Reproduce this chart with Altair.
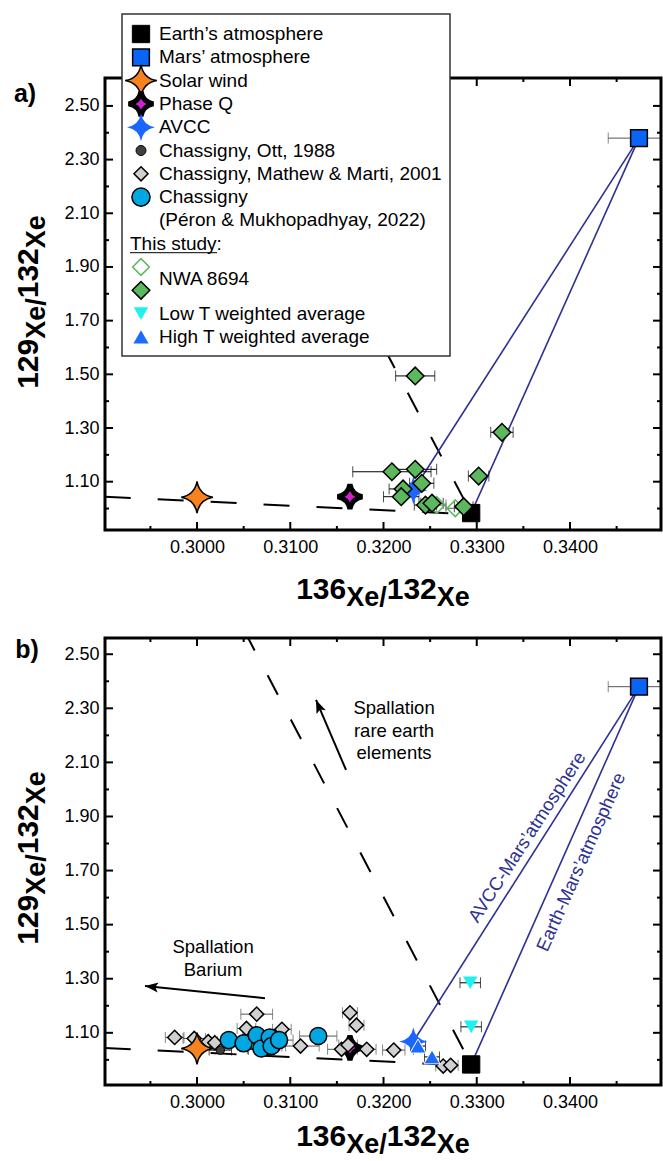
import altair as alt
import pandas as pd

FONT = "Liberation Sans"
NAVY = "#2e3192"

# ---------------- data ----------------
earth_x = [0.3294]; earth_y = [0.983]
mars_x = [0.3474];  mars_y = [2.380]; mars_xerr = [0.0033]
sw_x = [0.3000];    sw_y = [1.042]
q_x = [0.3164];     q_y = [1.044]
avcc_x = [0.3232];  avcc_y = [1.068]

# NWA 8694 (this study, panel a)
nwa_x = [0.3234, 0.3327, 0.3209, 0.3234, 0.3302, 0.3241, 0.3221, 0.3219, 0.3245, 0.3252, 0.3286]
nwa_y = [1.494, 1.284, 1.137, 1.146, 1.121, 1.094, 1.073, 1.044, 1.013, 1.020, 1.007]
nwa_xerr = [0.0021, 0.0012, 0.0042, 0.0023, 0.0011, 0.0013, 0.0015, 0.0019, 0.0012, 0.0012, 0.0010]
nwa_open_x = [0.3257, 0.3277]
nwa_open_y = [1.013, 1.001]
nwa_open_xerr = [0.0010, 0.0010]

# Chassigny (panel b)
ott_x = [0.3025, 0.3065]; ott_y = [1.036, 1.039]; ott_xerr = [0.0012, 0.0010]
mm_x = [0.2976, 0.2997, 0.3012, 0.3019, 0.3053, 0.3064, 0.3091, 0.3111,
        0.3164, 0.3171, 0.3155, 0.3162, 0.3182, 0.3211, 0.3264, 0.3272]
mm_y = [1.083, 1.079, 1.067, 1.063, 1.116, 1.169, 1.113, 1.051,
        1.174, 1.128, 1.039, 1.055, 1.039, 1.036, 0.977, 0.980]
mm_xerr = [0.0010, 0.0012, 0.0010, 0.0010, 0.0010, 0.0017, 0.0010, 0.0020,
           0.0008, 0.0008, 0.0015, 0.0010, 0.0010, 0.0012, 0.0008, 0.0008]
peron_x = [0.3034, 0.3050, 0.3064, 0.3069, 0.3078, 0.3080, 0.3088, 0.3130]
peron_y = [1.073, 1.061, 1.091, 1.042, 1.083, 1.051, 1.073, 1.088]
peron_xerr = [0.0015, 0.0015, 0.0015, 0.0015, 0.0018, 0.0015, 0.0015, 0.0020]
lowT_x = [0.3293, 0.3294]; lowT_y = [1.285, 1.122]; lowT_xerr = [0.0011, 0.0011]
highT_x = [0.3237, 0.3252]; highT_y = [1.051, 1.011]; highT_xerr = [0.0008, 0.0008]

# reference lines
spall_x = [0.3026]; spall_y = [2.75]          # far end of the Earth - REE spallation line
swline_x = [0.2901, 0.3294]; swline_y = [1.044, 0.978]

# arrows (tail -> head)
ree_arrow = [0.31598, 2.072, 0.31276, 2.331]
ba_arrow = [0.30729, 1.228, 0.29442, 1.273]

# axes
XDOM = [0.29013, 0.34976]
YDOM_A = [0.92, 2.604]
YDOM_B = [0.907, 2.560]
xt_major = [0.300, 0.310, 0.320, 0.330, 0.340]
xt_minor = [0.295, 0.305, 0.315, 0.325, 0.335, 0.345]
yt_major = [1.1, 1.3, 1.5, 1.7, 1.9, 2.1, 2.3, 2.5]
yt_minor = [1.0, 1.2, 1.4, 1.6, 1.8, 2.0, 2.2, 2.4]

legend_labels = ["Earth’s atmosphere", "Mars’ atmosphere", "Solar wind", "Phase Q", "AVCC",
                 "Chassigny, Ott, 1988", "Chassigny, Mathew & Marti, 2001", "Chassigny",
                 "(Péron & Mukhopadhyay, 2022)", "This study:", "NWA 8694",
                 "Low T weighted average", "High T weighted average"]

# ---------------- layout ----------------
W = 556
HA, HB = 452, 447
DUMMY = pd.DataFrame({"k": [0]})
STAR = "M0,-1 Q0.15,-0.15 1,0 Q0.15,0.15 0,1 Q-0.15,0.15 -1,0 Q-0.15,-0.15 0,-1 Z"
ARROW = "M0,0 L0.38,1 L0,0.78 L-0.38,1 Z"

XAX = alt.Axis(values=xt_major, format=".4f", labelFontSize=18, labelFont=FONT, labelColor="black",
               labelPadding=8, domain=False, ticks=False, grid=False, title=None, labelOverlap=False,
               labelFlush=False)
YAX = alt.Axis(values=yt_major, format=".2f", labelFontSize=18, labelFont=FONT, labelColor="black",
               labelPadding=6, domain=False, ticks=False, grid=False, title=None, labelOverlap=False,
               labelFlush=False)

S = {
    "earth": dict(shape="square", fill="black", stroke="black", strokeWidth=1, size=300),
    "mars": dict(shape="square", fill="#0a64f5", stroke="black", strokeWidth=1.5, size=280),
    "sw": dict(shape=STAR, fill="#f7821e", stroke="black", strokeWidth=1.5, size=1000),
    "q": dict(shape=STAR, fill="#d21fd2", stroke="black", strokeWidth=5, size=620),
    "avcc": dict(shape=STAR, fill="#1a66ff", strokeWidth=0, size=780),
    "ott": dict(shape="circle", fill="#404040", stroke="black", strokeWidth=1, size=70),
    "mm": dict(shape="diamond", fill="#d0d0d0", stroke="black", strokeWidth=1.5, size=200),
    "peron": dict(shape="circle", fill="#00a7e1", stroke="black", strokeWidth=1.5, size=290),
    "nwa": dict(shape="diamond", fill="#5cb85c", stroke="black", strokeWidth=1.5, size=310),
    "nwa_open": dict(shape="diamond", fill="white", fillOpacity=0, stroke="#5cb85c", strokeWidth=1.5, size=280),
    "lowT": dict(shape="triangle-down", fill="#1ff2ee", strokeWidth=0, size=210),
    "highT": dict(shape="triangle-up", fill="#1a6bff", strokeWidth=0, size=230),
    "highT_plot": dict(shape="triangle-up", fill="#1a6bff", stroke="white", strokeWidth=1, size=260),
}


def scales(ydom):
    return (alt.Scale(domain=XDOM, nice=False, zero=False),
            alt.Scale(domain=ydom, nice=False, zero=False))


def X(f, XS):
    return alt.X(f, scale=XS, axis=XAX)


def Y(f, YS):
    return alt.Y(f, scale=YS, axis=YAX)


def pts(xs, ys, XS, YS, key, clip=True):
    st = dict(S[key])
    return alt.Chart(pd.DataFrame({"x": xs, "y": ys})).mark_point(
        filled=True, opacity=1, clip=clip, **st).encode(x=X("x:Q", XS), y=Y("y:Q", YS))


def errs(xs, ys, es, XS, YS, color):
    df = pd.DataFrame({"lo": [a - e for a, e in zip(xs, es)],
                       "hi": [a + e for a, e in zip(xs, es)], "y": ys})
    r = alt.Chart(df).mark_rule(color=color, strokeWidth=1, clip=True).encode(
        x=X("lo:Q", XS), x2="hi:Q", y=Y("y:Q", YS))
    t1 = alt.Chart(df).mark_tick(color=color, thickness=1, size=11, orient="vertical", clip=True).encode(
        x=X("lo:Q", XS), y=Y("y:Q", YS))
    t2 = alt.Chart(df).mark_tick(color=color, thickness=1, size=11, orient="vertical", clip=True).encode(
        x=X("hi:Q", XS), y=Y("y:Q", YS))
    return [r, t1, t2]


def seg(x1, y1, x2, y2, XS, YS, color, width, dash=None):
    df = pd.DataFrame({"x": [x1], "y": [y1], "x2": [x2], "y2": [y2]})
    kw = dict(color=color, strokeWidth=width, clip=True)
    if dash:
        kw["strokeDash"] = dash
    return alt.Chart(df).mark_rule(**kw).encode(
        x=X("x:Q", XS), y=Y("y:Q", YS), x2="x2:Q", y2="y2:Q")


def frame_and_ticks(XS, YS, H):
    out = []
    out.append(alt.Chart(DUMMY).mark_rect(fillOpacity=0, stroke="black", strokeWidth=3).encode(
        x=alt.value(0), x2=alt.value(W), y=alt.value(0), y2=alt.value(H)))
    for vals, ln in [(xt_major, 8), (xt_minor, 4)]:
        d = pd.DataFrame({"x": vals})
        out.append(alt.Chart(d).mark_rule(color="black", strokeWidth=2).encode(
            x=X("x:Q", XS), y=alt.value(H), y2=alt.value(H - ln)))
        out.append(alt.Chart(d).mark_rule(color="black", strokeWidth=2).encode(
            x=X("x:Q", XS), y=alt.value(0), y2=alt.value(ln)))
    for vals, ln in [(yt_major, 8), (yt_minor, 4)]:
        d = pd.DataFrame({"y": vals})
        out.append(alt.Chart(d).mark_rule(color="black", strokeWidth=2).encode(
            y=Y("y:Q", YS), x=alt.value(0), x2=alt.value(ln)))
        out.append(alt.Chart(d).mark_rule(color="black", strokeWidth=2).encode(
            y=Y("y:Q", YS), x=alt.value(W), x2=alt.value(W - ln)))
    return out


def txt(s, x, y, **kw):
    base = dict(font=FONT, color="black")
    base.update(kw)
    return alt.Chart(DUMMY).mark_text(text=s, **base).encode(x=alt.value(x), y=alt.value(y))


ADV = {"1": .556, "3": .556, "6": .556, "2": .556, "9": .556, "X": .667, "e": .556, "/": .278}
NUM_SZ, EL_SZ, RAISE = 30, 27, 7


def iso_title(nums, horizontal, base, center):
    pieces = [(nums[0], NUM_SZ, True), ("Xe/", EL_SZ, False), (nums[1], NUM_SZ, True), ("Xe", EL_SZ, False)]
    widths = [sum(ADV[c] for c in p) * sz for p, sz, _ in pieces]
    out = []
    pos = center - sum(widths) / 2 if horizontal else center + sum(widths) / 2
    for (p, sz, up), w in zip(pieces, widths):
        if horizontal:
            out.append(txt(p, pos, base - (RAISE if up else 0), fontSize=sz, fontWeight="bold",
                           align="left", baseline="alphabetic"))
            pos += w
        else:
            out.append(txt(p, base - (RAISE if up else 0), pos, fontSize=sz, fontWeight="bold",
                           align="left", baseline="alphabetic", angle=270))
            pos -= w
    return out


def legend():
    out = []
    out.append(alt.Chart(DUMMY).mark_rect(fill="white", stroke="#333333", strokeWidth=1.5).encode(
        x=alt.value(17), x2=alt.value(345), y=alt.value(-64), y2=alt.value(278)))
    step = 23.3
    top = -44
    sx, tx = 36, 54
    fs = 19
    keys = ["earth", "mars", "sw", "q", "avcc", "ott", "mm", "peron"]
    leg_sizes = {"ott": 100, "mm": 200, "peron": 330, "sw": 1000, "q": 620, "avcc": 780}
    for i, k in enumerate(keys):
        st = dict(S[k])
        if k in leg_sizes:
            st["size"] = leg_sizes[k]
        out.append(alt.Chart(DUMMY).mark_point(filled=True, opacity=1, **st).encode(
            x=alt.value(sx), y=alt.value(top + i * step)))
        out.append(txt(legend_labels[i], tx, top + i * step, fontSize=fs, align="left", baseline="middle"))
    out.append(txt(legend_labels[8], tx, top + 8 * step, fontSize=fs, align="left", baseline="middle"))
    out.append(txt(legend_labels[9], 25, top + 9 * step, fontSize=fs, align="left", baseline="middle"))
    out.append(alt.Chart(DUMMY).mark_rule(color="black", strokeWidth=1).encode(
        x=alt.value(25), x2=alt.value(112), y=alt.value(top + 9 * step + 9), y2=alt.value(top + 9 * step + 9)))
    out.append(alt.Chart(DUMMY).mark_point(filled=True, opacity=1, **S["nwa_open"]).encode(
        x=alt.value(sx), y=alt.value(top + 10 * step)))
    out.append(alt.Chart(DUMMY).mark_point(filled=True, opacity=1, **S["nwa"]).encode(
        x=alt.value(sx), y=alt.value(top + 11 * step)))
    out.append(txt(legend_labels[10], tx, top + 10.5 * step, fontSize=fs, align="left", baseline="middle"))
    for j, k in [(12, "lowT"), (13, "highT")]:
        out.append(alt.Chart(DUMMY).mark_point(filled=True, opacity=1, **S[k]).encode(
            x=alt.value(sx), y=alt.value(top + j * step)))
        out.append(txt(legend_labels[j - 1], tx, top + j * step, fontSize=fs, align="left", baseline="middle"))
    return out


def arrow(a, XS, YS, angle):
    x1, y1, x2, y2 = a
    line = seg(x1, y1, x2, y2, XS, YS, "black", 2)
    head = alt.Chart(pd.DataFrame({"x": [x2], "y": [y2]})).mark_point(
        shape=ARROW, filled=True, fill="black", strokeWidth=0, opacity=1, size=700, angle=angle).encode(
        x=X("x:Q", XS), y=Y("y:Q", YS))
    return [line, head]


# ---------------- panel a ----------------
XS, YS = scales(YDOM_A)
la = []
la.append(alt.Chart(DUMMY).mark_rect(color="white").encode(
    x=alt.value(-105), x2=alt.value(-104), y=alt.value(-78), y2=alt.value(-77)))
la.append(seg(swline_x[0], swline_y[0], swline_x[1], swline_y[1], XS, YS, "black", 2, [26, 27]))
la.append(seg(spall_x[0], spall_y[0], earth_x[0], earth_y[0], XS, YS, "black", 2, [22, 28]))
la.append(seg(mars_x[0], mars_y[0], earth_x[0], earth_y[0], XS, YS, NAVY, 1.6))
la.append(seg(mars_x[0], mars_y[0], avcc_x[0], avcc_y[0], XS, YS, NAVY, 1.6))
la += errs(mars_x, mars_y, mars_xerr, XS, YS, "#555555")
la += errs(nwa_x, nwa_y, nwa_xerr, XS, YS, "black")
la += errs(nwa_open_x, nwa_open_y, nwa_open_xerr, XS, YS, "#555555")
la.append(pts(earth_x, earth_y, XS, YS, "earth"))
la.append(pts(sw_x, sw_y, XS, YS, "sw"))
la.append(pts(q_x, q_y, XS, YS, "q"))
la.append(pts(avcc_x, avcc_y, XS, YS, "avcc"))
la.append(pts(nwa_open_x, nwa_open_y, XS, YS, "nwa_open"))
la.append(pts(nwa_x, nwa_y, XS, YS, "nwa"))
la.append(pts(mars_x, mars_y, XS, YS, "mars"))
la += frame_and_ticks(XS, YS, HA)
la += legend()
la += iso_title(("136", "132"), True, 528, W / 2)
la += iso_title(("129", "132"), False, -60, 224)
la.append(txt("a)", -80, 16, fontSize=25, fontWeight="bold", align="center", baseline="middle"))
panel_a = alt.layer(*la).properties(width=W, height=HA)

# ---------------- panel b ----------------
XS, YS = scales(YDOM_B)
lb = []
lb.append(seg(swline_x[0], swline_y[0], swline_x[1], swline_y[1], XS, YS, "black", 2, [26, 27]))
lb.append(seg(spall_x[0], spall_y[0], earth_x[0], earth_y[0], XS, YS, "black", 2, [22, 28]))
lb.append(seg(mars_x[0], mars_y[0], earth_x[0], earth_y[0], XS, YS, NAVY, 1.6))
lb.append(seg(mars_x[0], mars_y[0], avcc_x[0], avcc_y[0], XS, YS, NAVY, 1.6))
lb += errs(mars_x, mars_y, mars_xerr, XS, YS, "#555555")
lb += errs(mm_x, mm_y, mm_xerr, XS, YS, "#555555")
lb += errs(peron_x, peron_y, peron_xerr, XS, YS, "#555555")
lb += errs(ott_x, ott_y, ott_xerr, XS, YS, "black")
lb += errs(lowT_x, lowT_y, lowT_xerr, XS, YS, "black")
lb += errs(highT_x, highT_y, highT_xerr, XS, YS, "black")
lb.append(pts(earth_x, earth_y, XS, YS, "earth"))
lb.append(pts(q_x, q_y, XS, YS, "q"))
lb.append(pts(avcc_x, avcc_y, XS, YS, "avcc"))
lb.append(pts(ott_x, ott_y, XS, YS, "ott"))
lb.append(pts(mm_x, mm_y, XS, YS, "mm"))
lb.append(pts(peron_x, peron_y, XS, YS, "peron"))
lb.append(pts(sw_x, sw_y, XS, YS, "sw"))
lb.append(pts(lowT_x, lowT_y, XS, YS, "lowT"))
lb.append(pts(highT_x, highT_y, XS, YS, "highT_plot"))
lb.append(pts(mars_x, mars_y, XS, YS, "mars"))
lb += arrow(ree_arrow, XS, YS, 337)
lb += arrow(ba_arrow, XS, YS, 276)
ann = [("AVCC-Mars’atmosphere", 0.33539, 1.824, 303),
       ("Earth-Mars’atmosphere", 0.34118, 1.732, 294)]
for s, ax_, ay_, ang in ann:
    lb.append(alt.Chart(pd.DataFrame({"x": [ax_], "y": [ay_]})).mark_text(
        text=s, angle=ang, fontSize=18.5, font=FONT, color=NAVY, align="center", baseline="middle").encode(
        x=X("x:Q", XS), y=Y("y:Q", YS)))
for s, ax_, ay_ in [("Spallation\nrare earth\nelements", 0.32113, 2.301), ("Spallation\nBarium", 0.30172, 1.417)]:
    lb.append(alt.Chart(pd.DataFrame({"x": [ax_], "y": [ay_]})).mark_text(
        text=s, lineBreak="\n", lineHeight=22.5, fontSize=18.5, font=FONT, color="black",
        align="center", baseline="middle").encode(x=X("x:Q", XS), y=Y("y:Q", YS)))
lb += frame_and_ticks(XS, YS, HB)
lb += iso_title(("136", "132"), True, 515, W / 2)
lb += iso_title(("129", "132"), False, -60, 220)
lb.append(txt("b)", -78, 12, fontSize=25, fontWeight="bold", align="center", baseline="middle"))
panel_b = alt.layer(*lb).properties(width=W, height=HB)

chart = alt.vconcat(panel_a, panel_b, spacing=108, bounds="flush").configure_view(
    stroke=None).properties(padding=0, background="white")
chart.save("out.html", embed_options={"renderer": "svg", "actions": False})
